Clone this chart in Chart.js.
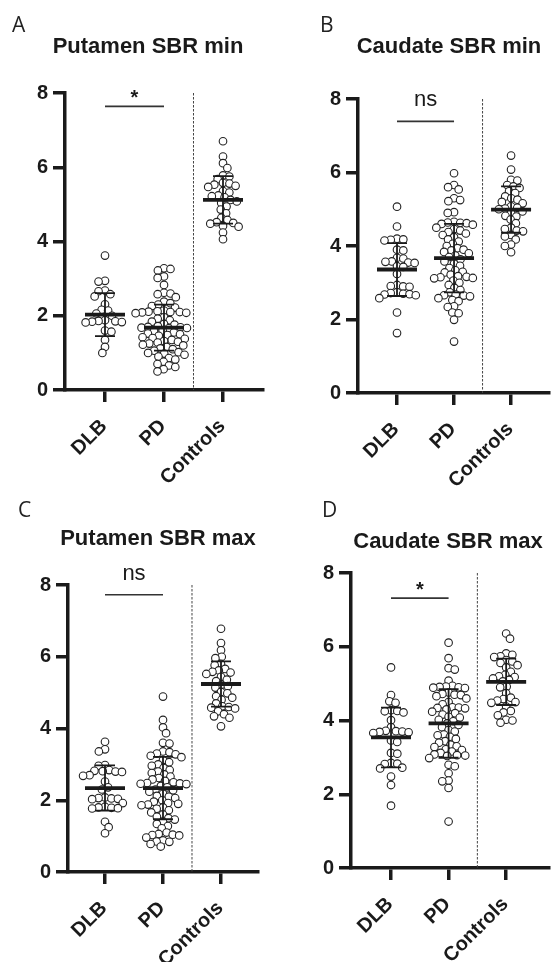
<!DOCTYPE html>
<html>
<head>
<meta charset="utf-8">
<script src="https://cdn.jsdelivr.net/npm/chart.js@4.4.1/dist/chart.umd.min.js"></script>
<style>
  body { margin: 0; background: #fff; }
  #wrap { position: relative; width: 554px; height: 962px; overflow: hidden; }
  canvas { position: absolute; }
</style>
</head>
<body>
<div id="wrap">
  <canvas id="cA" width="277" height="492" style="left:0;top:0"></canvas>
  <canvas id="cB" width="277" height="492" style="left:277px;top:0"></canvas>
  <canvas id="cC" width="277" height="482" style="left:0;top:480px"></canvas>
  <canvas id="cD" width="277" height="482" style="left:277px;top:480px"></canvas>
</div>
<script>
// groups and axis
const groups = ['DLB', 'PD', 'Controls'];
const yTicks = [0, 2, 4, 6, 8];

// A - Putamen SBR min
const putMinDLB = [3.62, 2.94, 2.92, 2.68, 2.66, 2.58, 2.52, 2.31, 2.16, 2.14, 2.06, 2.00,
  1.88, 1.86, 1.85, 1.84, 1.83, 1.82, 1.60, 1.57, 1.35, 1.16, 1.00];
const putMinPD = [3.28, 3.26, 3.22, 3.06, 3.02, 2.83, 2.62, 2.60, 2.58, 2.50, 2.38, 2.34, 2.30, 2.26,
  2.22, 2.14, 2.12, 2.11, 2.10, 2.10, 2.09, 2.08, 2.07, 1.96, 1.92, 1.88, 1.84, 1.78, 1.76, 1.72,
  1.70, 1.69, 1.68, 1.67, 1.66, 1.60, 1.58, 1.55, 1.52, 1.50, 1.48, 1.46, 1.42, 1.40, 1.38, 1.35,
  1.32, 1.30, 1.28, 1.25, 1.22, 1.20, 1.16, 1.12, 1.10, 1.06, 1.02, 1.00, 0.98, 0.95, 0.90, 0.86,
  0.82, 0.76, 0.70, 0.66, 0.62, 0.56, 0.50];
const putMinCtl = [6.70, 6.29, 6.11, 5.98, 5.78, 5.75, 5.68, 5.58, 5.56, 5.53, 5.50, 5.47, 5.36, 5.32,
  5.24, 5.22, 5.19, 5.12, 5.08, 5.04, 4.94, 4.86, 4.76, 4.64, 4.58, 4.52, 4.50, 4.48, 4.42, 4.40,
  4.24, 4.06];
const putMinMean = [2.03, 1.68, 5.12];
const putMinSD = [0.58, 0.62, 0.64];

// B - Caudate SBR min
const cauMinDLB = [5.07, 4.53, 4.20, 4.18, 4.17, 4.15, 3.90, 3.88, 3.68, 3.66, 3.58, 3.57, 3.55, 3.54,
  3.45, 3.43, 3.24, 2.94, 2.91, 2.90, 2.89, 2.74, 2.72, 2.70, 2.69, 2.68, 2.66, 2.58, 2.19, 1.63];
const cauMinPD = [5.98, 5.66, 5.60, 5.54, 5.30, 5.25, 5.22, 4.92, 4.90, 4.66, 4.64, 4.63, 4.62, 4.60,
  4.58, 4.50, 4.46, 4.42, 4.38, 4.34, 4.30, 4.24, 4.18, 4.12, 4.06, 4.00, 3.94, 3.90, 3.88, 3.84,
  3.80, 3.74, 3.70, 3.64, 3.58, 3.52, 3.46, 3.40, 3.34, 3.30, 3.28, 3.22, 3.18, 3.16, 3.15, 3.13,
  3.12, 3.06, 3.00, 2.94, 2.86, 2.80, 2.74, 2.68, 2.66, 2.65, 2.63, 2.58, 2.53, 2.50, 2.36,
  2.34, 2.19, 2.17, 1.99, 1.40];
const cauMinCtl = [6.46, 6.08, 5.80, 5.78, 5.66, 5.62, 5.58, 5.49, 5.44, 5.35, 5.30, 5.26, 5.20, 5.16,
  5.08, 5.04, 5.02, 5.00, 4.94, 4.90, 4.82, 4.80, 4.72, 4.62, 4.50, 4.46, 4.42, 4.40, 4.30, 4.26,
  4.18, 4.04, 4.00, 3.83];
const cauMinMean = [3.36, 3.67, 4.99];
const cauMinSD = [0.72, 0.93, 0.63];

// C - Putamen SBR max
const putMaxDLB = [3.63, 3.42, 3.36, 2.98, 2.96, 2.84, 2.82, 2.81, 2.80, 2.79, 2.70, 2.68, 2.52,
  2.36, 2.30, 2.08, 2.06, 2.05, 2.04, 2.03, 1.92, 1.82, 1.80, 1.79, 1.78, 1.77, 1.40, 1.25, 1.08];
const putMaxPD = [4.89, 4.24, 4.03, 3.87, 3.60, 3.58, 3.36, 3.34, 3.30, 3.28, 3.24, 3.20, 3.12, 3.06,
  3.00, 2.96, 2.90, 2.84, 2.80, 2.76, 2.72, 2.66, 2.62, 2.58, 2.54, 2.50, 2.48, 2.47, 2.46,
  2.45, 2.40, 2.36, 2.30, 2.28, 2.24, 2.18, 2.12, 2.10, 2.06, 2.00, 1.96, 1.92, 1.90, 1.88,
  1.86, 1.80, 1.76, 1.72, 1.66, 1.60, 1.54, 1.50, 1.46, 1.40, 1.34, 1.28, 1.22, 1.10, 1.06, 1.04,
  1.03, 1.02, 0.96, 0.88, 0.85, 0.84, 0.78, 0.71];
const putMaxCtl = [6.78, 6.38, 6.18, 6.00, 5.96, 5.80, 5.76, 5.66, 5.62, 5.58, 5.56, 5.52, 5.44, 5.36,
  5.32, 5.22, 5.18, 5.14, 5.02, 4.98, 4.90, 4.86, 4.80, 4.70, 4.62, 4.60, 4.58, 4.56, 4.48, 4.40,
  4.34, 4.30, 4.06];
const putMaxMean = [2.34, 2.34, 5.24];
const putMaxSD = [0.63, 0.87, 0.63];

// D - Caudate SBR max
const cauMaxDLB = [5.44, 4.69, 4.52, 4.48, 4.28, 4.26, 4.25, 4.22, 4.01, 3.82, 3.72, 3.71, 3.70, 3.69,
  3.68, 3.66, 3.46, 3.42, 3.12, 3.10, 2.85, 2.83, 2.82, 2.72, 2.70, 2.48, 2.25, 1.69];
const cauMaxPD = [6.11, 5.69, 5.42, 5.38, 5.08, 4.94, 4.92, 4.91, 4.90, 4.89, 4.88, 4.76, 4.72,
  4.70, 4.69, 4.66, 4.60, 4.50, 4.44, 4.36, 4.35, 4.34, 4.33, 4.30, 4.24, 4.20, 4.16, 4.10, 4.08,
  4.02, 3.98, 3.92, 3.88, 3.82, 3.74, 3.70, 3.62, 3.60, 3.56, 3.50, 3.44, 3.40, 3.34, 3.30, 3.28,
  3.22, 3.20, 3.16, 3.12, 3.08, 3.06, 3.05, 3.04, 2.98, 2.80, 2.76, 2.57, 2.37, 2.35, 2.17, 1.26];
const cauMaxCtl = [6.36, 6.22, 5.82, 5.78, 5.74, 5.72, 5.64, 5.60, 5.56, 5.50, 5.44, 5.32, 5.24, 5.20,
  5.18, 5.14, 5.10, 5.06, 4.92, 4.90, 4.74, 4.62, 4.58, 4.54, 4.50, 4.48, 4.38, 4.26, 4.22, 4.14,
  4.02, 4.00, 3.94];
const cauMaxMean = [3.54, 3.92, 5.05];
const cauMaxSD = [0.81, 0.93, 0.63];

// DLB vs PD comparison
const sigLabels = ['*', 'ns', 'ns', '*'];
const sigY = [7.64, 7.39, 7.73, 7.32];

const titles = ['Putamen SBR min', 'Caudate SBR min', 'Putamen SBR max', 'Caudate SBR max'];
const letters = ['A', 'B', 'C', 'D'];

// layout of each panel (chart area in canvas px, x range, title spots)
const panels = [
  { id: 'cA', sets: [putMinDLB, putMinPD, putMinCtl], mean: putMinMean, sd: putMinSD,
    L: 65, T: 93, R: 263, B: 390, xmin: 0.322, xmax: 3.678, titleX: 148, titleY: 53, letterX: 12, letterY: 32 },
  { id: 'cB', sets: [cauMinDLB, cauMinPD, cauMinCtl], mean: cauMinMean, sd: cauMinSD,
    L: 81, T: 99, R: 277, B: 393, xmin: 0.316, xmax: 3.667, titleX: 172, titleY: 53, letterX: 43, letterY: 32 },
  { id: 'cC', sets: [putMaxDLB, putMaxPD, putMaxCtl], mean: putMaxMean, sd: putMaxSD,
    L: 68, T: 105, R: 258, B: 392, xmin: 0.362, xmax: 3.638, titleX: 158, titleY: 65, letterX: 18, letterY: 37 },
  { id: 'cD', sets: [cauMaxDLB, cauMaxPD, cauMaxCtl], mean: cauMaxMean, sd: cauMaxSD,
    L: 74, T: 93, R: 277, B: 388, xmin: 0.305, xmax: 3.746, titleX: 171, titleY: 68, letterX: 45, letterY: 37 }
];

const INK = '#1a1a1a';
const FONT = '"Liberation Sans", Arial, sans-serif';

// simple beeswarm: spread close values sideways so circles don't sit on each other
function swarm(vals, ppx, ppy, d) {
  const placed = [];
  const out = new Array(vals.length);
  const order = vals.map((v, i) => i).sort((a, b) => vals[b] - vals[a]);
  let flip = 1;
  for (const i of order) {
    const y = vals[i] * ppy;
    const cands = [0];
    for (const p of placed) {
      const dy = Math.abs(p.y - y);
      if (dy < d) {
        const dx = Math.sqrt(d * d - dy * dy);
        cands.push(p.x + dx, p.x - dx);
      }
    }
    cands.sort((a, b) => Math.abs(a) - Math.abs(b) || (a - b) * flip);
    let best = 0;
    for (const c of cands) {
      if (placed.every(p => (p.x - c) ** 2 + (p.y - y) ** 2 >= d * d - 0.01)) { best = c; break; }
    }
    flip = -flip;
    placed.push({ x: best, y: y });
    out[i] = best / ppx;
  }
  return out;
}

const extras = {
  id: 'extras',
  afterDatasetsDraw(chart, args, o) {
    const { ctx, scales: { x, y } } = chart;
    const p = o.panel;
    ctx.save();
    // dashed divider
    ctx.strokeStyle = '#444';
    ctx.lineWidth = 1;
    ctx.setLineDash([2.5, 1.5]);
    ctx.beginPath();
    ctx.moveTo(x.getPixelForValue(2.5), y.getPixelForValue(8));
    ctx.lineTo(x.getPixelForValue(2.5), y.getPixelForValue(0));
    ctx.stroke();
    ctx.setLineDash([]);
    // mean and SD
    ctx.strokeStyle = INK;
    p.mean.forEach((m, i) => {
      const cx = x.getPixelForValue(i + 1);
      const ym = y.getPixelForValue(m);
      const yt = y.getPixelForValue(m + p.sd[i]);
      const yb = y.getPixelForValue(m - p.sd[i]);
      ctx.lineWidth = 1.8;
      ctx.beginPath();
      ctx.moveTo(cx, yt); ctx.lineTo(cx, yb);
      ctx.moveTo(cx - 10, yt); ctx.lineTo(cx + 10, yt);
      ctx.moveTo(cx - 10, yb); ctx.lineTo(cx + 10, yb);
      ctx.stroke();
      ctx.lineWidth = 3.8;
      ctx.beginPath();
      ctx.moveTo(cx - 20, ym); ctx.lineTo(cx + 20, ym);
      ctx.stroke();
    });
    // DLB vs PD bracket
    const by = y.getPixelForValue(o.sigY);
    ctx.strokeStyle = '#333';
    ctx.lineWidth = 1.6;
    ctx.beginPath();
    ctx.moveTo(x.getPixelForValue(1), by);
    ctx.lineTo(x.getPixelForValue(2), by);
    ctx.stroke();
    ctx.fillStyle = INK;
    ctx.textAlign = 'center';
    ctx.textBaseline = 'alphabetic';
    const mx = (x.getPixelForValue(1) + x.getPixelForValue(2)) / 2;
    if (o.sig === '*') {
      ctx.font = 'bold 20px ' + FONT;
      ctx.fillText(o.sig, mx, by - 2);
    } else {
      ctx.font = '22px ' + FONT;
      ctx.fillText(o.sig, mx, by - 15);
    }
    // category labels, turned 45 degrees under the ticks
    ctx.font = 'bold 20px ' + FONT;
    ctx.textAlign = 'right';
    groups.forEach((g, i) => {
      ctx.save();
      ctx.translate(x.getPixelForValue(i + 1) + 3, x.top + 37);
      ctx.rotate(-Math.PI / 4);
      ctx.fillText(g, 0, 0);
      ctx.restore();
    });
    // title and panel letter
    ctx.textAlign = 'center';
    ctx.font = 'bold 22px ' + FONT;
    ctx.fillText(o.title, p.titleX, p.titleY);
    ctx.textAlign = 'left';
    ctx.font = '21px "Open Sans", "Noto Sans", sans-serif';
    ctx.fillStyle = '#222';
    ctx.fillText(o.letter, p.letterX, p.letterY);
    ctx.restore();
  }
};

panels.forEach((p, k) => {
  const el = document.getElementById(p.id);
  const W = el.width, H = el.height;
  const ppx = (p.R - p.L) / (p.xmax - p.xmin);
  const ppy = (p.B - p.T) / 8;
  const datasets = p.sets.map((vals, gi) => {
    const dx = swarm(vals, ppx, ppy, 6.5);
    return {
      label: groups[gi],
      data: vals.map((v, j) => ({ x: gi + 1 + dx[j], y: v })),
      pointRadius: 3.8,
      pointHoverRadius: 3.8,
      pointBorderWidth: 1.1,
      pointBorderColor: '#222',
      pointBackgroundColor: '#fff'
    };
  });
  new Chart(el, {
    type: 'scatter',
    data: { datasets },
    options: {
      responsive: false,
      animation: false,
      events: [],
      clip: false,
      layout: { padding: { left: 0, top: p.T, right: W - p.R, bottom: 0 } },
      plugins: {
        legend: { display: false },
        tooltip: { enabled: false },
        extras: { panel: p, sig: sigLabels[k], sigY: sigY[k], title: titles[k], letter: letters[k] }
      },
      scales: {
        x: {
          type: 'linear',
          min: p.xmin,
          max: p.xmax,
          afterBuildTicks: s => { s.ticks = groups.map((g, i) => ({ value: i + 1 })); },
          afterFit: s => { s.height = H - p.B; },
          ticks: { display: false },
          grid: { drawOnChartArea: false, drawTicks: true, tickLength: 12, lineWidth: 3.5, color: INK },
          border: { display: true, width: 3.5, color: INK }
        },
        y: {
          min: 0,
          max: 8,
          afterBuildTicks: s => { s.ticks = yTicks.map(v => ({ value: v })); },
          afterFit: s => { s.width = p.L; },
          ticks: {
            padding: 5,
            color: INK,
            font: { family: FONT, size: 20, weight: 'bold' }
          },
          grid: { drawOnChartArea: false, drawTicks: true, tickLength: 12, lineWidth: 3.5, color: INK },
          border: { display: true, width: 3.5, color: INK }
        }
      }
    },
    plugins: [extras]
  });
});
</script>
</body>
</html>
